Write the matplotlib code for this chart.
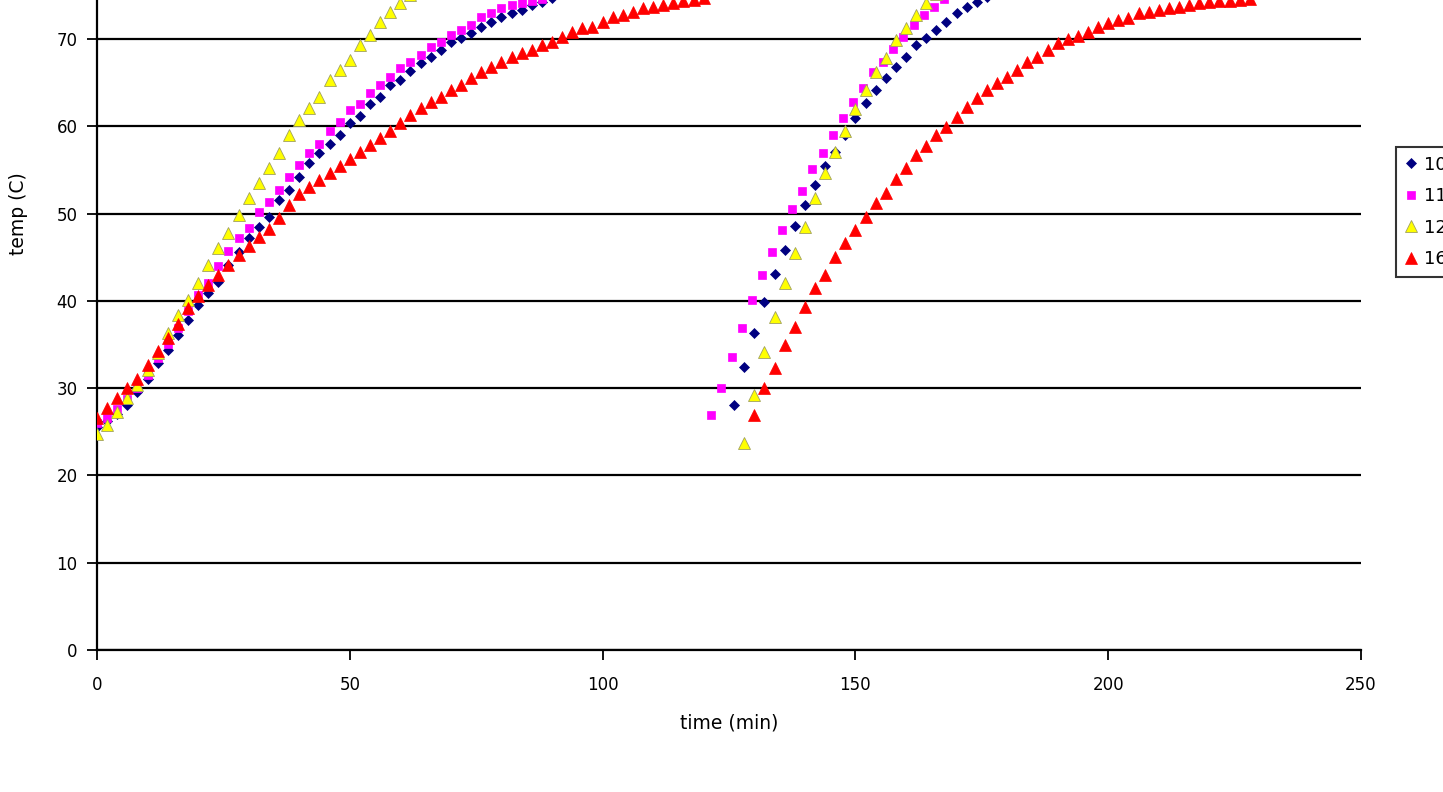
import matplotlib
matplotlib.use("Agg")
import matplotlib.pyplot as plt
import numpy as np

plt.rcParams['font.family'] = ['DejaVu Sans']

# ---------------- data ----------------
labels = ["10:00", "11:00", "12:00", "16:00"]

# series 1 (navy)
s1_t = [0, 2, 4, 6, 8, 10, 12, 14, 16, 18, 20, 22, 24, 26, 28, 30, 32, 34, 36, 38,
        40, 42, 44, 46, 48, 50, 52, 54, 56, 58, 60, 62, 64, 66, 68, 70, 72, 74, 76, 78,
        80, 82, 84, 86, 88, 90, 92,
        126, 128, 130, 132, 134, 136, 138, 140, 142, 144, 146, 148, 150, 152, 154, 156,
        158, 160, 162, 164, 166, 168, 170, 172, 174, 176, 178]
s1_T = [25.6, 26.2, 27.0, 28.1, 29.6, 31.1, 32.9, 34.4, 36.1, 37.8, 39.5, 40.9, 42.2, 44.1,
        45.6, 47.2, 48.5, 49.6, 51.6, 52.7, 54.2, 55.8, 56.9, 58.0, 59.0, 60.4, 61.2, 62.5,
        63.4, 64.7, 65.3, 66.3, 67.2, 67.9, 68.7, 69.7, 70.1, 70.7, 71.4, 72.0, 72.5, 73.0,
        73.3, 73.9, 74.2, 74.7, 75.1,
        28.1, 32.4, 36.3, 39.9, 43.1, 45.8, 48.6, 51.0, 53.3, 55.4, 57.0, 59.0, 60.9, 62.7,
        64.2, 65.5, 66.8, 67.9, 69.3, 70.1, 71.0, 71.9, 73.0, 73.7, 74.2, 74.8, 75.3]

# series 2 (magenta)
s2_t = [0, 2, 4, 6, 8, 10, 12, 14, 16, 18, 20, 22, 24, 26, 28, 30, 32, 34, 36, 38,
        40, 42, 44, 46, 48, 50, 52, 54, 56, 58, 60, 62, 64, 66, 68, 70, 72, 74, 76, 78,
        80, 82, 84, 86, 88, 90,
        121.5, 123.5, 125.5, 127.5, 129.5, 131.5, 133.5, 135.5, 137.5, 139.5, 141.5,
        143.5, 145.5, 147.5, 149.5, 151.5, 153.5, 155.5, 157.5, 159.5, 161.5, 163.5,
        165.5, 167.5, 169.5]
s2_T = [26.0, 26.6, 27.6, 28.8, 30.0, 31.5, 33.4, 35.1, 36.9, 38.8, 40.7, 42.0, 44.0, 45.7,
        47.2, 48.4, 50.2, 51.3, 52.7, 54.2, 55.6, 56.9, 58.0, 59.4, 60.5, 61.9, 62.6, 63.8,
        64.7, 65.6, 66.7, 67.4, 68.2, 69.1, 69.7, 70.5, 71.0, 71.6, 72.5, 73.0, 73.5, 73.9,
        74.1, 74.3, 74.6, 75.0,
        26.9, 30.0, 33.6, 36.9, 40.1, 43.0, 45.6, 48.1, 50.5, 52.6, 55.1, 56.9, 59.0, 60.9,
        62.8, 64.4, 66.2, 67.4, 68.9, 70.2, 71.6, 72.7, 73.7, 74.6, 75.4]

# series 3 (yellow)
s3_t = [0, 2, 4, 6, 8, 10, 12, 14, 16, 18, 20, 22, 24, 26, 28, 30, 32, 34, 36, 38,
        40, 42, 44, 46, 48, 50, 52, 54, 56, 58, 60, 62, 64,
        128, 130, 132, 134, 136, 138, 140, 142, 144, 146, 148, 150, 152, 154, 156, 158,
        160, 162, 164, 166]
s3_T = [24.8, 25.8, 27.3, 28.9, 30.4, 32.1, 34.0, 36.3, 38.4, 40.1, 42.0, 44.1, 46.0, 47.8,
        49.8, 51.8, 53.5, 55.2, 56.9, 59.0, 60.7, 62.1, 63.4, 65.3, 66.4, 67.6, 69.3, 70.5,
        71.9, 73.1, 74.1, 75.0, 75.8,
        23.7, 29.2, 34.1, 38.1, 42.0, 45.5, 48.5, 51.8, 54.6, 57.1, 59.5, 62.0, 64.2, 66.2,
        67.8, 69.9, 71.3, 72.7, 74.1, 75.2]

# series 4 (red)
s4_t = [0, 2, 4, 6, 8, 10, 12, 14, 16, 18, 20, 22, 24, 26, 28, 30, 32, 34, 36, 38,
        40, 42, 44, 46, 48, 50, 52, 54, 56, 58, 60, 62, 64, 66, 68, 70, 72, 74, 76, 78,
        80, 82, 84, 86, 88, 90, 92, 94, 96, 98, 100, 102, 104, 106, 108, 110, 112, 114,
        116, 118, 120,
        130, 132, 134, 136, 138, 140, 142, 144, 146, 148, 150, 152, 154, 156, 158, 160,
        162, 164, 166, 168, 170, 172, 174, 176, 178, 180, 182, 184, 186, 188, 190, 192,
        194, 196, 198, 200, 202, 204, 206, 208, 210, 212, 214, 216, 218, 220, 222, 224,
        226, 228]
s4_T = [26.6, 27.7, 28.9, 30.0, 31.1, 32.6, 34.3, 35.8, 37.3, 39.2, 40.6, 41.8, 43.0, 44.1,
        45.2, 46.3, 47.3, 48.2, 49.5, 51.0, 52.2, 53.0, 53.8, 54.6, 55.5, 56.2, 57.0, 57.8,
        58.6, 59.5, 60.4, 61.3, 62.1, 62.8, 63.4, 64.2, 64.7, 65.5, 66.2, 66.8, 67.4, 67.9,
        68.4, 68.7, 69.3, 69.7, 70.2, 70.8, 71.2, 71.4, 71.9, 72.5, 72.7, 73.1, 73.5, 73.7,
        73.9, 74.1, 74.3, 74.5, 74.7,
        26.9, 30.0, 32.3, 34.9, 37.0, 39.3, 41.5, 43.0, 45.0, 46.6, 48.1, 49.6, 51.2, 52.4,
        54.0, 55.2, 56.7, 57.7, 59.0, 59.9, 61.1, 62.2, 63.2, 64.2, 65.0, 65.6, 66.4, 67.4,
        67.9, 68.7, 69.5, 70.0, 70.3, 70.8, 71.4, 71.8, 72.2, 72.4, 73.0, 73.1, 73.3, 73.5,
        73.7, 73.9, 74.1, 74.2, 74.3, 74.4, 74.5, 74.6]

x_ticks = [0, 50, 100, 150, 200, 250]
y_ticks = [0, 10, 20, 30, 40, 50, 60, 70]

# ---------------- figure ----------------
W, H = 1443, 792
fig = plt.figure(figsize=(W / 100, H / 100), dpi=100)
ax = fig.add_axes([97 / W, 142 / H, 1264 / W, 872.9 / H])

ax.plot(s1_t, s1_T, linestyle='none', marker='D', ms=5.5, mfc='#000080', mec='#000080',
        mew=0.5, label=labels[0], zorder=3)
ax.plot(s2_t, s2_T, linestyle='none', marker='s', ms=5.8, mfc='#FF00FF', mec='#FF00FF',
        mew=0.5, label=labels[1], zorder=4)
ax.plot(s3_t, s3_T, linestyle='none', marker='^', ms=9, mfc='#FFFF00', mec='#A0A060',
        mew=0.6, label=labels[2], zorder=5)
ax.plot(s4_t, s4_T, linestyle='none', marker='^', ms=8.5, mfc='#FF0000', mec='#FF0000',
        mew=0.5, label=labels[3], zorder=6)

ax.set_xlim(0, 250)
ax.set_ylim(0, 100)
ax.set_xticks(x_ticks)
ax.set_yticks(y_ticks)
ax.yaxis.grid(True, color='black', linewidth=1.6)
ax.set_axisbelow(True)
for s in ['top', 'right']:
    ax.spines[s].set_visible(False)
for s in ['left', 'bottom']:
    ax.spines[s].set_color('black')
    ax.spines[s].set_linewidth(1.6)
ax.tick_params(axis='y', direction='out', length=7, width=1.3, pad=7, labelsize=12)
ax.tick_params(axis='x', direction='out', length=7, width=1.3, pad=12, labelsize=12)

ax.set_xlabel('time (min)', fontsize=13.5, labelpad=14)
ax.set_ylabel('temp (C)', fontsize=13.5)
ax.yaxis.set_label_coords(-0.0546, 0.5)

leg = fig.legend(loc='center left', bbox_to_anchor=(1396 / W, 1 - 212 / H),
                 frameon=True, fancybox=False, shadow=False, fontsize=13,
                 numpoints=1, handlelength=0.7, handletextpad=0.35,
                 labelspacing=0.75, borderpad=0.5, borderaxespad=0)
leg.get_frame().set_edgecolor('black')
leg.get_frame().set_linewidth(1.5)

fig.savefig('out.png', dpi=100)
